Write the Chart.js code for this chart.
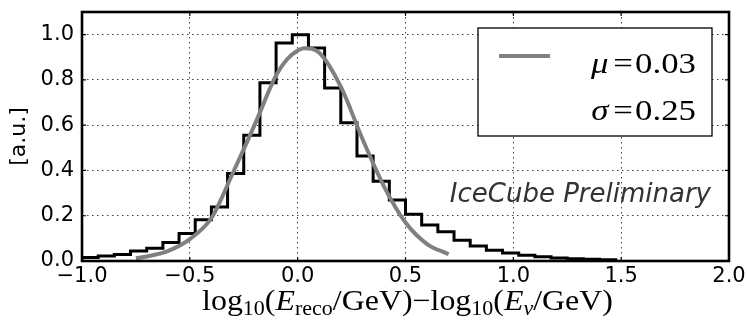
<!DOCTYPE html>
<html><head><meta charset="utf-8">
<script src="https://cdn.jsdelivr.net/npm/chart.js@4.4.0/dist/chart.umd.min.js"></script>
<style>html,body{margin:0;padding:0;background:#fff;}</style>
</head><body>
<canvas id="c" width="747" height="323"></canvas>
<script>
// ---- data ----
const binLeft = [-1.0,-0.925,-0.85,-0.775,-0.7,-0.625,-0.55,-0.475,-0.4,-0.325,-0.25,-0.175,-0.1,-0.025,0.05,0.125,0.2,0.275,0.35,0.425,0.5,0.575,0.65,0.725,0.8,0.875,0.95,1.025,1.1,1.175,1.25,1.325,1.4];
const binHeight = [0.016,0.022,0.029,0.044,0.056,0.082,0.122,0.182,0.239,0.386,0.555,0.787,0.963,1.0,0.941,0.764,0.611,0.464,0.352,0.27,0.206,0.159,0.129,0.092,0.066,0.048,0.035,0.025,0.019,0.013,0.010,0.008,0.005];
const binEnd = 1.475;
const fitX = [-0.75,-0.7,-0.6,-0.5,-0.4,-0.3,-0.2,-0.1,-0.05,0.0,0.03,0.1,0.2,0.3,0.4,0.5,0.6,0.7];
const fitY = [0.012,0.02,0.045,0.097,0.19,0.39,0.6,0.82,0.89,0.93,0.94,0.92,0.77,0.54,0.33,0.17,0.075,0.03];
const xTicks = [-1.0,-0.5,0.0,0.5,1.0,1.5,2.0];
const yTicks = [0.0,0.2,0.4,0.6,0.8,1.0];
const legendLines = [["μ","0.03"],["σ","0.25"]];
const annotation = "IceCube Preliminary";
const yTitle = "[a.u.]";

// step outline: each bin holds its height until the next edge
const histData = [{x: binLeft[0], y: 0}].concat(binLeft.map((x,i)=>({x, y: binHeight[i]})));
histData.push({x: binEnd, y: binHeight[binHeight.length-1]});
histData.push({x: binEnd, y: 0});
const fitData = fitX.map((x,i)=>({x, y: fitY[i]}));

const fmt = v => (v < 0 ? '\u2212' : '') + Math.abs(v).toFixed(1);
const SERIF = '"Liberation Serif", "DejaVu Serif", serif';

function drawSegments(ctx, segs, x, y, align, sx){
  sx = sx || 1;
  let total = 0;
  segs.forEach(s=>{ ctx.font = s.font; s.w = ctx.measureText(s.t).width; total += s.w + (s.gap||0); });
  ctx.save();
  const start = align === 'right' ? x - total*sx : (align === 'center' ? x - total*sx/2 : x);
  ctx.translate(start, y); ctx.scale(sx, 1);
  ctx.textAlign = 'left'; ctx.textBaseline = 'alphabetic';
  let cx = 0;
  segs.forEach(s=>{ ctx.font = s.font; ctx.fillText(s.t, cx, (s.dy||0)); cx += s.w + (s.gap||0); });
  ctx.restore();
}

const extras = {
  id: 'extras',
  afterDatasetsDraw(chart){
    const {ctx, chartArea: a, scales: {x, y}} = chart;
    ctx.save();
    // inner tick marks
    ctx.strokeStyle = '#000'; ctx.lineWidth = 1.2;
    xTicks.forEach(v=>{
      const px = x.getPixelForValue(v);
      ctx.beginPath(); ctx.moveTo(px, a.bottom); ctx.lineTo(px, a.bottom-4);
      ctx.moveTo(px, a.top); ctx.lineTo(px, a.top+4); ctx.stroke();
    });
    yTicks.forEach(v=>{
      const py = y.getPixelForValue(v);
      ctx.beginPath(); ctx.moveTo(a.left, py); ctx.lineTo(a.left+4, py);
      ctx.moveTo(a.right, py); ctx.lineTo(a.right-4, py); ctx.stroke();
    });
    // frame
    ctx.lineWidth = 2.6;
    ctx.strokeRect(a.left, a.top, a.right-a.left, a.bottom-a.top);

    // legend box
    const bx = a.right - 251, by = a.top + 16, bw = 234, bh = 108;
    ctx.fillStyle = '#fff'; ctx.fillRect(bx, by, bw, bh);
    ctx.lineWidth = 1.3; ctx.strokeStyle = '#000'; ctx.strokeRect(bx, by, bw, bh);
    ctx.strokeStyle = 'rgb(128,128,128)'; ctx.lineWidth = 4;
    ctx.beginPath(); ctx.moveTo(bx+21, by+28); ctx.lineTo(bx+72, by+28); ctx.stroke();
    ctx.fillStyle = '#000';
    legendLines.forEach((l, i)=>{
      drawSegments(ctx, [
        {t: l[0], font: 'italic 30px ' + SERIF, gap: 4},
        {t: '=', font: '30px ' + SERIF, gap: 2},
        {t: l[1], font: '30px ' + SERIF}
      ], bx + bw - 16, by + 45 + i*47, 'right', 1.16);
    });

    // annotation
    ctx.fillStyle = '#333';
    ctx.font = 'oblique 26px "DejaVu Sans"';
    ctx.textAlign = 'right'; ctx.textBaseline = 'alphabetic';
    ctx.fillText(annotation, a.right - 18, 202);

    // x axis label (math)
    ctx.fillStyle = '#000';
    const R = '29px ' + SERIF, I = 'italic 29px ' + SERIF, S = '20px ' + SERIF, SI = 'italic 20px ' + SERIF;
    drawSegments(ctx, [
      {t:'log', font:R}, {t:'10', font:S, dy:5}, {t:'(', font:R}, {t:'E', font:I},
      {t:'reco', font:S, dy:5}, {t:'/GeV)\u2212log', font:R}, {t:'10', font:S, dy:5},
      {t:'(', font:R}, {t:'E', font:I}, {t:'ν', font:SI, dy:5}, {t:'/GeV)', font:R}
    ], (a.left + a.right)/2 + 2, 310, 'center', 1.1);
    ctx.restore();
  }
};

new Chart(document.getElementById('c'), {
  type: 'line',
  data: {
    datasets: [
      { data: fitData, borderColor: 'rgb(128,128,128)', borderWidth: 4, pointRadius: 0,
        cubicInterpolationMode: 'monotone', fill: false },
      { data: histData, borderColor: '#000', borderWidth: 3, pointRadius: 0, stepped: 'before',
        fill: false }
    ]
  },
  options: {
    responsive: false, animation: false, devicePixelRatio: 1,
    layout: { padding: { top: 12, right: 18, left: 0, bottom: 0 } },
    plugins: { legend: { display: false }, tooltip: { enabled: false } },
    scales: {
      x: {
        type: 'linear', min: -1, max: 2,
        afterBuildTicks: s => { s.ticks = xTicks.map(v=>({value: v})); },
        afterFit: s => { s.height = 62; s.paddingLeft = 0; s.paddingRight = 0; },
        ticks: { callback: fmt, color: '#000', font: { family: '"DejaVu Sans"', size: 21 }, padding: 3, maxRotation: 0 },
        grid: { color: 'rgba(0,0,0,0.75)', lineWidth: 1, drawTicks: false },
        border: { display: false, dash: [1.5, 3.5] }
      },
      y: {
        type: 'linear', min: 0, max: 1.1,
        afterBuildTicks: s => { s.ticks = yTicks.map(v=>({value: v})); },
        afterFit: s => { s.width = 82; s.paddingTop = 0; s.paddingBottom = 0; },
        ticks: { callback: v => v.toFixed(1), color: '#000', font: { family: '"DejaVu Sans"', size: 21 }, padding: 8 },
        grid: { color: 'rgba(0,0,0,0.75)', lineWidth: 1, drawTicks: false },
        border: { display: false, dash: [1.5, 3.5] },
        title: { display: true, text: yTitle, color: '#000', font: { family: '"DejaVu Sans"', size: 22 }, padding: { top: 6, bottom: 0 } }
      }
    }
  },
  plugins: [extras]
});
</script>
</body></html>
